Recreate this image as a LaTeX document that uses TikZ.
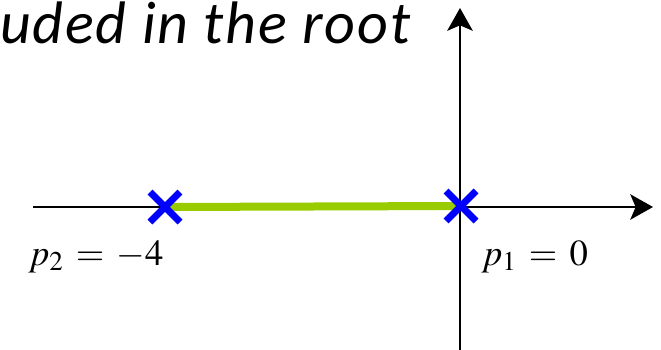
\documentclass[tikz,border=0pt]{standalone}
\usepackage{mathptmx}
\usepackage{fontspec}
\newfontfamily\calibri[LetterSpace=3]{Carlito}
\usetikzlibrary{arrows.meta, shapes.misc}
\definecolor{locusgreen}{RGB}{153,204,0}

\begin{document}
\begin{tikzpicture}[x=0.75pt, y=-0.75pt,
  every node/.style={font=\fontsize{27.5}{32}\selectfont, inner sep=0pt},
  axis/.style={line width=2.2pt, -{Stealth[length=17pt, width=19pt, inset=4pt]}},
  locus/.style={draw=locusgreen, line width=6pt},
  pole/.style={draw=blue, cross out, line width=5.2pt, minimum size=22.5pt, inner sep=0pt, outer sep=0pt}]
\useasboundingbox (0,0) rectangle (661,350);
\clip (0,0) rectangle (661,350);

% Title (cut at the left)
\node[anchor=base west, font=\calibri\itshape\fontsize{45}{50}\selectfont] (title) at (0,43) {uded in the root};

% Axes
\coordinate (o) at (460,207);
\coordinate (xl) at (33,207);
\coordinate (xr) at (653,207);
\coordinate (yt) at (460,8);
\coordinate (yb) at (460,352);
\draw[axis] (xl) -- (xr);
\draw[axis] (yb) -- (yt);

% Poles and locus
\coordinate (p1) at (461,206);
\coordinate (p2) at (165,207);
\draw[locus] (p2) -- (p1);
\node[pole] (x1) at (p1) {};
\node[pole] (x2) at (p2) {};

\node[anchor=base west] (l2) at (28,265) {$p_2\,=\,-4$};
\node[anchor=base west] (l1) at (481,265) {$p_1\,=\,0$};

\end{tikzpicture}
\end{document}
